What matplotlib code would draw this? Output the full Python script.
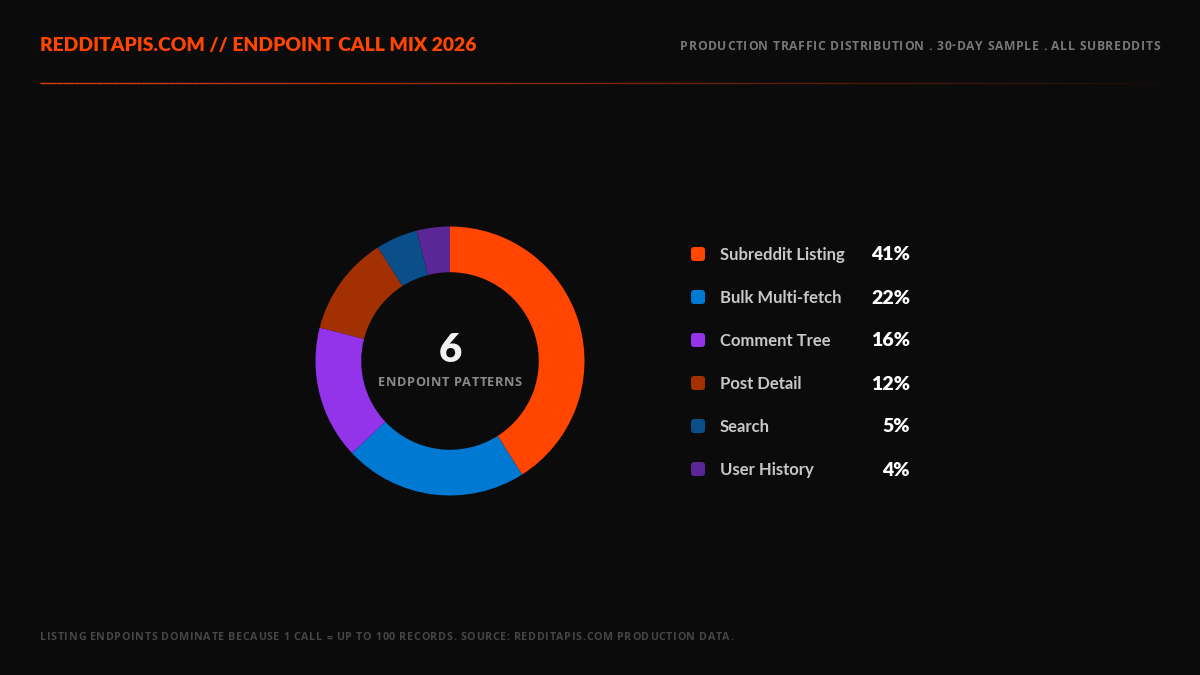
import numpy as np
import matplotlib
matplotlib.use("Agg")
import matplotlib.pyplot as plt
from matplotlib.patches import FancyBboxPatch
from matplotlib.collections import LineCollection
from matplotlib.font_manager import FontProperties, findfont, get_font

plt.rcParams["font.family"] = ["Lato", "DejaVu Sans"]
wide = ["Open Sans", "DejaVu Sans"]

# data
labels = ["Subreddit Listing", "Bulk Multi-fetch", "Comment Tree", "Post Detail", "Search", "User History"]
shares = [41, 22, 16, 12, 5, 4]
colors = ["#FF4500", "#0079D3", "#9333EA", "#A33000", "#0A4F8A", "#5B2696"]

title = "REDDITAPIS.COM // ENDPOINT CALL MIX 2026"
subtitle = "PRODUCTION TRAFFIC DISTRIBUTION . 30-DAY SAMPLE . ALL SUBREDDITS"
footer = "LISTING ENDPOINTS DOMINATE BECAUSE 1 CALL = UP TO 100 RECORDS. SOURCE: REDDITAPIS.COM PRODUCTION DATA."
center_label = "ENDPOINT PATTERNS"

W, H = 1200, 675
DPI = 100
bg = "#0B0B0B"


def spaced_text(ax, x, y, s, spacing, size, weight, family, color, ha="left"):
    # letter-spaced text: place each glyph by its advance plus extra spacing (px)
    fp = FontProperties(family=family, weight=weight, size=size)
    font = get_font(findfont(fp))
    font.set_size(size, DPI)
    adv = []
    for c in s:
        g = font.load_char(ord(c))
        adv.append(g.linearHoriAdvance / 65536)
    total = sum(adv) + spacing * (len(s) - 1)
    if ha == "right":
        x0 = x - total
    elif ha == "center":
        x0 = x - total / 2
    else:
        x0 = x
    pos = x0
    for c, a in zip(s, adv):
        if c != " ":
            ax.text(pos, y, c, fontproperties=fp, color=color, ha="left", va="center")
        pos += a + spacing


fig = plt.figure(figsize=(12, 6.75), dpi=DPI, facecolor=bg)

# overlay axes in pixel coords
ov = fig.add_axes([0, 0, 1, 1])
ov.set_xlim(0, W)
ov.set_ylim(H, 0)
ov.axis("off")
ov.set_facecolor(bg)

ov.text(40, 46, title, color="#FF4500", fontsize=13.9, fontweight="heavy",
        ha="left", va="center")
spaced_text(ov, 1160, 46, subtitle, 0.7, 8.7, "bold", wide, "#777777", ha="right")

# fading rule under header
xs = np.linspace(40, 1160, 200)
segs = [[(xs[i], 83), (xs[i + 1], 83)] for i in range(len(xs) - 1)]
alphas = np.linspace(0.9, 0.05, len(segs))
seg_cols = [(1.0, 0.27, 0.0, a) for a in alphas]
ov.add_collection(LineCollection(segs, colors=seg_cols, linewidths=1.0))

spaced_text(ov, 40, 638, footer, 0.7, 7.7, "bold", wide, "#464646")

# donut
cx, cy, r = 450, 361, 134.5
pad = 4
ax = fig.add_axes([(cx - r - pad) / W, (H - cy - r - pad) / H,
                   2 * (r + pad) / W, 2 * (r + pad) / H])
ax.set_facecolor(bg)
ax.pie(shares, colors=colors, startangle=90, counterclock=False, radius=1,
       wedgeprops=dict(width=0.34, edgecolor="none"))
lim = (r + pad) / r
ax.set_xlim(-lim, lim)
ax.set_ylim(-lim, lim)
ax.set_aspect("equal")
ax.axis("off")

ov.text(cx, 351, str(len(labels)), color="#F2F2F2", fontsize=29, fontweight="heavy",
        ha="center", va="center")
spaced_text(ov, cx, 383, center_label, 0.55, 9.2, "bold", wide, "#8A8A8A", ha="center")

# legend
y0, dy = 254, 43
for i, (lab, val, col) in enumerate(zip(labels, shares, colors)):
    y = y0 + i * dy
    ov.add_patch(FancyBboxPatch((691, y - 7), 14, 14,
                                boxstyle="round,pad=0,rounding_size=3",
                                facecolor=col, edgecolor="none"))
    ov.text(720, y + 1, lab, color="#C8C8C8", fontsize=12, fontweight="bold",
            ha="left", va="center")
    ov.text(910, y + 1, f"{val}%", color="#FFFFFF", fontsize=14, fontweight="heavy",
            ha="right", va="center")

fig.savefig("out.png", dpi=DPI, facecolor=bg)
